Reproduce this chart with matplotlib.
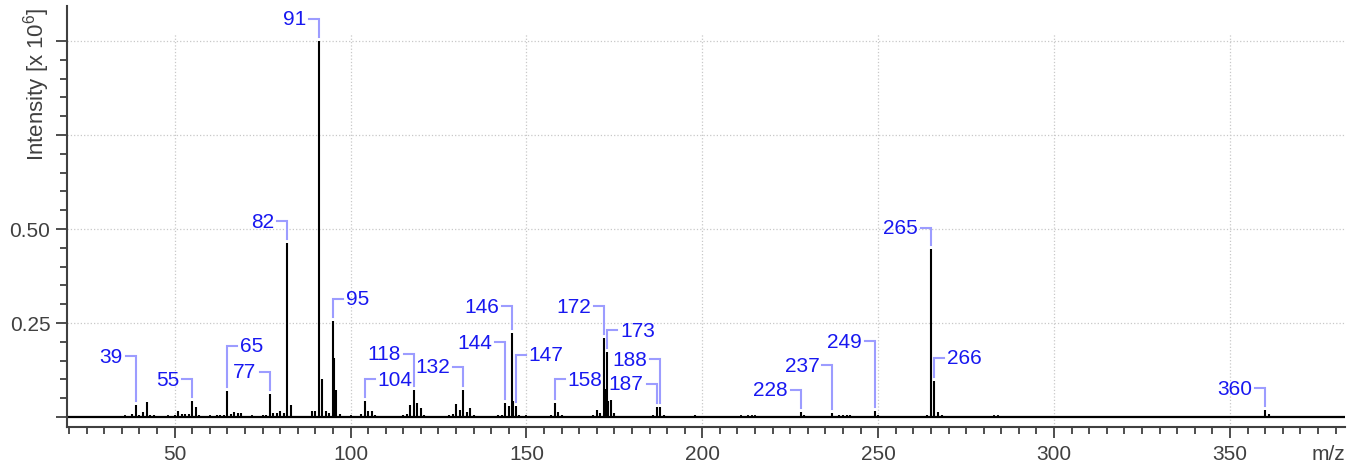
import numpy as np
import matplotlib
matplotlib.use("Agg")
import matplotlib.pyplot as plt
from matplotlib.ticker import MultipleLocator, FuncFormatter

plt.rcParams['font.family'] = ['Liberation Sans', 'DejaVu Sans']
plt.rcParams['mathtext.fontset'] = 'custom'
plt.rcParams['mathtext.rm'] = 'Liberation Sans'

# spectrum peaks (m/z, intensity x 1e6)
mz = [38, 39, 40, 41, 42, 43, 44,
      50, 51, 52, 53, 54, 55, 56, 57,
      62, 63, 64, 65, 66, 67, 68, 69,
      74, 75, 76, 77, 78, 79, 80, 81, 82, 83, 84,
      89, 90, 91, 92, 93, 94, 95, 95.3, 96, 97,
      102, 103, 104, 105, 106, 107,
      115, 116, 117, 118, 119, 120, 121,
      127, 128, 129, 130, 131, 132, 133, 134, 135,
      141, 142, 143, 144, 145, 146, 146.3, 147, 148,
      156, 157, 158, 159, 160,
      169, 170, 171, 172, 172.3, 173, 173.3, 174, 175, 176,
      185, 186, 187, 188, 189,
      198, 228, 229, 237, 239, 240, 241, 242, 249, 250,
      264, 265, 266, 267, 268,
      360, 361]
intensity = [0.008, 0.032, 0.004, 0.014, 0.041, 0.006, 0.005,
             0.004, 0.015, 0.009, 0.008, 0.008, 0.042, 0.027, 0.004,
             0.004, 0.006, 0.005, 0.068, 0.007, 0.013, 0.010, 0.011,
             0.003, 0.004, 0.004, 0.061, 0.010, 0.010, 0.016, 0.011, 0.463, 0.032, 0.003,
             0.017, 0.017, 1.000, 0.101, 0.017, 0.010, 0.254, 0.157, 0.073, 0.008,
             0.003, 0.008, 0.043, 0.017, 0.017, 0.004,
             0.005, 0.008, 0.032, 0.072, 0.036, 0.023, 0.004,
             0.003, 0.005, 0.008, 0.034, 0.019, 0.073, 0.014, 0.023, 0.004,
             0.003, 0.004, 0.006, 0.036, 0.028, 0.223, 0.043, 0.028, 0.005,
             0.003, 0.004, 0.037, 0.012, 0.004,
             0.004, 0.019, 0.010, 0.209, 0.074, 0.172, 0.043, 0.046, 0.010, 0.003,
             0.003, 0.005, 0.027, 0.027, 0.006,
             0.004, 0.012, 0.005, 0.011, 0.004, 0.006, 0.006, 0.004, 0.015, 0.005,
             0.004, 0.447, 0.095, 0.012, 0.005,
             0.019, 0.008]

# baseline noise
noise_mz = [22, 25, 28, 30, 32, 34, 36, 46, 48, 59, 60, 71, 72, 86, 87,
            99, 100, 109, 111, 113, 123, 125, 137, 139, 150, 152, 154,
            162, 164, 166, 178, 180, 182, 191, 193, 195, 200, 203, 206,
            209, 211, 213, 214, 215, 217, 219, 221, 223, 225, 231, 233,
            235, 244, 246, 252, 254, 256, 258, 260, 262, 270, 272, 275,
            278, 281, 283, 284, 285, 288, 291, 295, 299, 303, 307, 312,
            316, 320, 325, 329, 333, 337, 341, 343, 345, 349, 353, 357,
            364, 367, 371, 375, 379]
noise_int = [0.002, 0.002, 0.003, 0.002, 0.003, 0.003, 0.004, 0.003, 0.004, 0.003, 0.004, 0.003, 0.004, 0.003, 0.003,
             0.003, 0.004, 0.003, 0.003, 0.003, 0.003, 0.003, 0.003, 0.003, 0.004, 0.003, 0.003,
             0.003, 0.003, 0.003, 0.003, 0.003, 0.002, 0.003, 0.002, 0.003, 0.003, 0.002, 0.003,
             0.003, 0.004, 0.004, 0.004, 0.004, 0.003, 0.002, 0.003, 0.002, 0.003, 0.003, 0.002,
             0.003, 0.003, 0.002, 0.003, 0.002, 0.003, 0.002, 0.003, 0.003, 0.002, 0.003, 0.002,
             0.002, 0.003, 0.004, 0.004, 0.003, 0.002, 0.002, 0.002, 0.002, 0.002, 0.002, 0.002,
             0.002, 0.002, 0.002, 0.002, 0.002, 0.002, 0.003, 0.003, 0.002, 0.002, 0.002, 0.002,
             0.002, 0.002, 0.002, 0.002, 0.002]

# peak labels
label_mz = [39, 55, 65, 77, 82, 91, 95, 104, 118, 132, 144, 146,
            147, 158, 172, 173, 187, 188, 228, 237, 249, 265, 266, 360]
label_side = "LLRLLLRRLLLLRRLRLLLLLLRL"
label_y = [0.162, 0.101, 0.189, 0.120, 0.521, 1.059, 0.314, 0.101, 0.168, 0.133, 0.199, 0.295,
           0.165, 0.101, 0.295, 0.231, 0.088, 0.154, 0.072, 0.138, 0.202, 0.503, 0.157, 0.077]

W, H = 1356, 464
AXC = '#404040'


def main():
    fig = plt.figure(figsize=(W / 100, H / 100), dpi=100)
    ax = fig.add_axes([67 / W, 36 / H, (1345 - 67) / W, (428 - 7) / H])
    x0, x1 = 19.4, 382.7
    y0, y1 = -0.0266, 1.093
    ax.set_xlim(x0, x1)
    ax.set_ylim(y0, y1)
    pxx = (x1 - x0) / (1345 - 67)   # m/z per pixel
    pxy = (y1 - y0) / (428 - 7)     # intensity per pixel

    # grid
    ax.vlines(np.arange(50, 351, 50), y0, 1.02, colors='#c8c8c8', linestyles=':', lw=0.9, zorder=0)
    ax.hlines([0.25, 0.5, 0.75, 1.0], x0, x1, colors='#c8c8c8', linestyles=':', lw=0.9, zorder=0)

    # spectrum
    ax.axhline(0, color='black', lw=1.6, zorder=2)
    ax.vlines(noise_mz, 0, noise_int, colors='black', lw=1.3, zorder=2)
    ax.vlines(mz, 0, intensity, colors='black', lw=1.5, zorder=3)

    # labels with leader lines
    for m, side, ly in zip(label_mz, label_side, label_y):
        top = max(h for x, h in zip(mz, intensity) if int(x) == m)
        s = -1 if side == 'L' else 1
        xe = m + s * 10 * pxx
        ax.plot([m, m, xe], [top + 4 * pxy, ly, ly], color='#9c9cff', lw=1.5,
                solid_joinstyle='miter', zorder=4)
        ax.text(xe + s * 3 * pxx, ly, str(m), color='#1818f0', fontsize=15,
                ha='right' if side == 'L' else 'left', va='center', zorder=5)

    # axes styling
    for sp in ['top', 'right']:
        ax.spines[sp].set_visible(False)
    for sp in ['left', 'bottom']:
        ax.spines[sp].set_color(AXC)
        ax.spines[sp].set_linewidth(1.5)

    ax.xaxis.set_major_locator(MultipleLocator(50))
    ax.xaxis.set_minor_locator(MultipleLocator(5))
    ax.set_yticks(np.arange(0, 1.01, 0.25))
    ax.set_yticks(np.arange(0, 1.001, 0.05), minor=True)
    ax.yaxis.set_major_formatter(FuncFormatter(
        lambda v, p: '%.2f' % v if 0.2 < v < 0.6 else ''))
    ax.tick_params(which='major', length=8, width=1.3, color=AXC,
                   labelsize=15, labelcolor=AXC, pad=4)
    ax.tick_params(which='minor', length=5, width=1.3, color=AXC)

    fig.text(1345 / W, (H - 445) / H, 'm/z', ha='right', va='top',
             fontsize=15, color=AXC)
    fig.text(37 / W, (H - 8) / H, r'Intensity [x 10$^6$]', rotation=90,
             ha='center', va='top', fontsize=16, color=AXC)

    fig.savefig('out.png', dpi=100)


if __name__ == "__main__":
    main()
